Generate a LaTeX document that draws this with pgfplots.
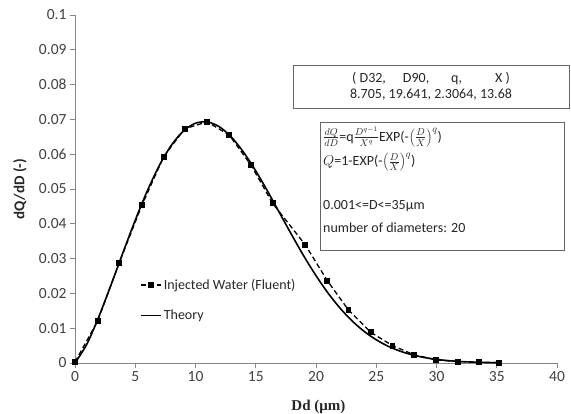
\documentclass[border=0pt]{standalone}
\usepackage{fontspec}
\setmainfont{Carlito}
\newfontfamily\serifbold{Liberation Serif}
\usepackage{pgfplots}
\pgfplotsset{compat=1.18}
\definecolor{axgray}{RGB}{134,134,134}
\definecolor{txtgray}{RGB}{64,64,64}
\begin{document}
\begin{tikzpicture}
\begin{axis}[
  scale only axis, width=482bp, height=348bp,
  xmin=0, xmax=40, ymin=0, ymax=0.1,
  axis lines=left,
  axis line style={-, draw=axgray, line width=0.9bp},
  xtick={0,5,10,15,20,25,30,35,40},
  ytick={0,0.01,0.02,0.03,0.04,0.05,0.06,0.07,0.08,0.09,0.1},
  tick style={draw=axgray, line width=0.9bp},
  tick align=outside, major tick length=5bp,
  tick label style={font=\fontsize{15.5bp}{17bp}\selectfont, text=txtgray},
  /pgf/number format/assume math mode=true,
  yticklabel style={/pgf/number format/fixed, /pgf/number format/precision=2},
  scaled y ticks=false,
  xlabel={\serifbold\bfseries Dd (μm)},
  ylabel={\bfseries dQ/dD (-)},
  xlabel style={at={(axis description cs:0.505,-0.1264)}, anchor=center, font=\fontsize{15bp}{17bp}\selectfont, text=black!85},
  ylabel style={at={(axis description cs:-0.114,0.5)}, anchor=center, font=\fontsize{15bp}{17bp}\selectfont, text=black!85},
  clip=false,
  legend style={draw=none, fill=none, at={(axis description cs:0.135,0.247)}, anchor=north west,
    font=\fontsize{14bp}{16bp}\selectfont, text=black!85, row sep=15bp, inner sep=0pt},
  legend cell align=left,
  legend image code/.code={\draw[mark repeat=2,mark phase=2,#1] plot coordinates {(0bp,0bp) (10bp,0bp) (20bp,0bp)};},
]
\addplot[black, line width=1.3bp, dash pattern=on 5bp off 3bp, mark=square*, mark size=2.3bp, mark options={solid}]
coordinates {
(0,0.0003) (1.89,0.0121) (3.67,0.0288) (5.56,0.0454) (7.36,0.0593) (9.1,0.0673)
(10.97,0.0693) (12.8,0.0655) (14.6,0.0569) (16.4,0.0459) (19.1,0.0340) (20.95,0.0236)
(22.7,0.0152) (24.55,0.0088) (26.35,0.0050) (28.1,0.0024) (29.95,0.0009) (31.75,0.0004)
(33.5,0.0002) (35.2,0.0001)
};
\addlegendentry{Injected Water (Fluent)}
\addplot[black, line width=1.6bp, smooth]
coordinates {
(0,0) (1,0.00552) (2,0.01352) (3,0.02254) (4,0.03190) (5,0.04104) (6,0.04947) (7,0.05677)
(8,0.06258) (9,0.06668) (10,0.06890) (11,0.06926) (12,0.06784) (13,0.06484) (14,0.06051)
(15,0.05521) (16,0.04925) (17,0.04298) (18,0.03671) (19,0.03067) (20,0.02510) (21,0.02009)
(22,0.01575) (23,0.01208) (24,0.00907) (25,0.00667) (26,0.00480) (27,0.00338) (28,0.00233)
(29,0.00157) (30,0.00104) (31,0.00067) (32,0.00042) (33,0.00026) (34,0.00016) (35,0.00009)
};
\addlegendentry{Theory}
\end{axis}
% text boxes
\draw[draw=black!60, line width=0.8bp, fill=white] (218bp,255bp) rectangle (494bp,298bp);
\node[align=center, font=\fontsize{14bp}{16bp}\selectfont, text=black!85, inner sep=0pt] at (356bp,277bp)
  {( D32,\hspace{17bp}D90,\hspace{22bp}q,\hspace{33bp}X )\\8.705, 19.641, 2.3064, 13.68};
\draw[draw=black!60, line width=0.8bp, fill=white] (245bp,113bp) rectangle (489bp,241bp);
\begin{scope}[every node/.style={anchor=west, inner sep=0pt, font=\fontsize{14bp}{16bp}\selectfont, text=black!85}]
\node at (248bp,226bp) {$\frac{dQ}{dD}$=q$\frac{D^{q-1}}{X^{q}}$EXP(-$\left(\frac{D}{X}\right)^{q}$)};
\node at (248bp,201bp) {$Q$=1-EXP(-$\left(\frac{D}{X}\right)^{q}$)};
\node at (248bp,157bp) {0.001<=D<=35μm};
\node at (248bp,135bp) {number of diameters: 20};
\end{scope}
\pgfresetboundingbox
\path (-75bp,-51bp) rectangle (496bp,363bp);
\end{tikzpicture}
\end{document}
